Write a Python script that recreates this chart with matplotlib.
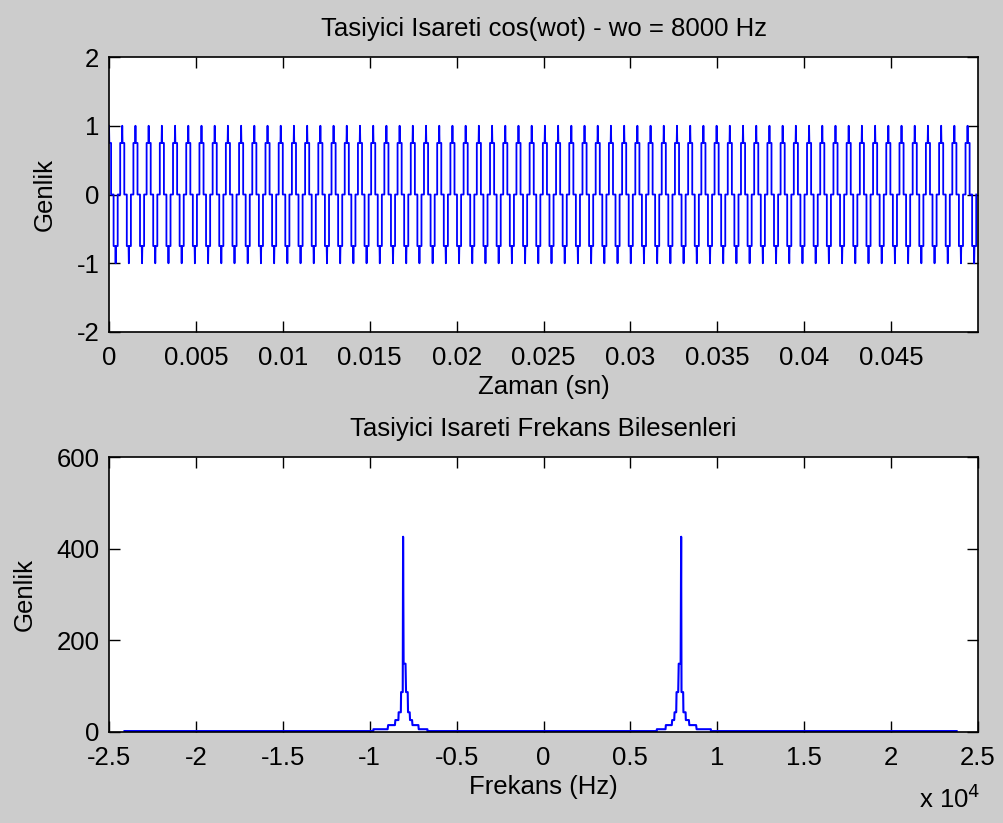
import matplotlib
matplotlib.use('Agg')
import matplotlib.pyplot as plt
import numpy as np

# carrier as it shows on screen: a train of short up/down pulses
pattern_period = 0.000760          # spacing of the peaks that reach +1 (s)
t_end = 0.04998
pulse_dt = [-0.000118, -0.000118, -0.000017, 0.0, 0.000017, 0.000118, 0.000118]
pulse_amp = [0.0, 0.75, 0.75, 1.0, 0.75, 0.75, 0.0]

# spectrum: peaks and the plateaus of the skirt around the left peak
peak_freqs = [-8080, 7920]
plateau_start = [-1710, -860, -445, -255, -115, 0, 30, 170, 285, 400, 540, 900]
plateau_end = [-890, -470, -270, -130, -20, 0, 140, 265, 380, 517, 880, 1400]
plateau_mag = [6, 15, 26, 43, 87, 426, 149, 87, 43, 26, 15, 6]
f_start, f_end = -24110, 23770
baseline = 2

xticks_top = [0, 0.005, 0.01, 0.015, 0.02, 0.025, 0.03, 0.035, 0.04, 0.045]
xticklabels_top = ['0', '0.005', '0.01', '0.015', '0.02', '0.025', '0.03', '0.035', '0.04', '0.045']
xticks_bot = [-2.5, -2, -1.5, -1, -0.5, 0, 0.5, 1, 1.5, 2, 2.5]
xticklabels_bot = ['-2.5', '-2', '-1.5', '-1', '-0.5', '0', '0.5', '1', '1.5', '2', '2.5']

plt.rcParams['font.family'] = ['Liberation Sans', 'DejaVu Sans']
plt.rcParams['axes.unicode_minus'] = False
fs_txt = 18.5
grey = '#cccccc'
blue = '#0000ff'

fig = plt.figure(figsize=(10.04, 8.23), dpi=100, facecolor=grey)

# time signal
t, x = [], []
n_per = int(t_end / pattern_period) + 2
for k in range(n_per):
    for sign, c in ((1, k * pattern_period), (-1, (k + 0.5) * pattern_period)):
        for dt, a in zip(pulse_dt, pulse_amp):
            t.append(c + dt)
            x.append(sign * a)
t = np.array(t)
x = np.array(x)
keep = (t >= 0) & (t <= t_end)
t, x = t[keep], x[keep]

ax1 = fig.add_axes([0.1086, 0.5966, 0.8655, 0.3341])
ax1.plot(t, x, color=blue, lw=1.3)
ax1.set_xlim(0, 0.05)
ax1.set_ylim(-2, 2)
ax1.set_yticks([-2, -1, 0, 1, 2])
ax1.set_xticks(xticks_top)
ax1.set_xticklabels(xticklabels_top)
ax1.set_title('Tasiyici Isareti cos(wot) - wo = 8000 Hz', fontsize=fs_txt, pad=15)
ax1.set_xlabel('Zaman (sn)', fontsize=fs_txt, labelpad=4)
ax1.set_ylabel('Genlik', fontsize=fs_txt, labelpad=14)

# spectrum as a staircase through the read plateaus
freqs = [f_start]
mags = [baseline]
for i, p in enumerate(peak_freqs):
    if i == 0:
        segs = list(zip(plateau_start, plateau_end, plateau_mag))
    else:
        segs = [(-e, -s, m) for s, e, m in zip(plateau_start, plateau_end, plateau_mag)][::-1]
    freqs += [p + segs[0][0]]
    mags += [baseline]
    for s, e, m in segs:
        freqs += [p + s, p + e]
        mags += [m, m]
    freqs += [p + segs[-1][1]]
    mags += [baseline]
freqs.append(f_end)
mags.append(baseline)

ax2 = fig.add_axes([0.1086, 0.1106, 0.8655, 0.3341])
ax2.plot(np.array(freqs) / 1e4, mags, color=blue, lw=1.5)
ax2.set_xlim(-2.5, 2.5)
ax2.set_ylim(0, 600)
ax2.set_yticks([0, 200, 400, 600])
ax2.set_xticks(xticks_bot)
ax2.set_xticklabels(xticklabels_bot)
ax2.set_title('Tasiyici Isareti Frekans Bilesenleri', fontsize=fs_txt, pad=15)
ax2.set_xlabel('Frekans (Hz)', fontsize=fs_txt, labelpad=4)
ax2.set_ylabel('Genlik', fontsize=fs_txt, labelpad=14)
fig.text(0.915, 0.012, r'x 10$^4$', fontsize=fs_txt, ha='left', va='bottom')

for ax in (ax1, ax2):
    ax.tick_params(direction='in', top=True, right=True, length=8, width=1,
                   labelsize=fs_txt)
    ax.tick_params(axis='x', pad=10)
    ax.tick_params(axis='y', pad=7)
    for s in ax.spines.values():
        s.set_linewidth(1.2)
    ax.set_facecolor('white')

fig.savefig('out.png', dpi=100, facecolor=grey)
